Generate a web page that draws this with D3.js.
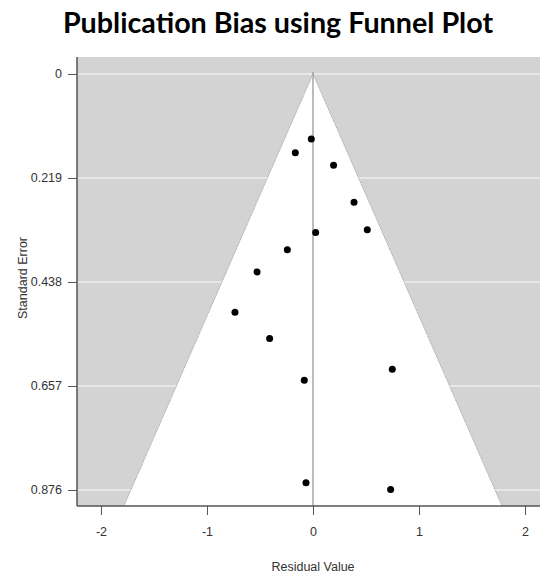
<!DOCTYPE html>
<html>
<head>
<meta charset="utf-8">
<script src="https://cdn.jsdelivr.net/npm/d3@7"></script>
<style>
  body { margin: 0; background: #fff; }
  svg { display: block; }
</style>
</head>
<body>
<svg width="540" height="575"></svg>
<script>
// residuals and their standard errors
const residual = [-0.016, -0.167, 0.194, 0.387, 0.512, 0.025, -0.242, -0.528, -0.736, -0.409, 0.748, -0.082, -0.066, 0.732];
const stdErr   = [0.137, 0.166, 0.192, 0.270, 0.328, 0.334, 0.370, 0.417, 0.502, 0.557, 0.622, 0.645, 0.861, 0.875];
const yTicks = [0, 0.219, 0.438, 0.657, 0.876];
const xTicks = [-2, -1, 0, 1, 2];

const width = 540, height = 575;
const plotLeft = 77, plotRight = 549, plotTop = 57, plotBottom = 506;

const svg = d3.select("svg");

// title
svg.append("text")
   .attr("x", 278)
   .attr("y", 33)
   .attr("text-anchor", "middle")
   .attr("font-family", "Lato, 'Open Sans', sans-serif")
   .attr("font-weight", "bold")
   .attr("font-size", "28.7px")
   .attr("fill", "#000")
   .text("Publication Bias using Funnel Plot");

const x = d3.scaleLinear()
    .domain([-2.226, 2.226])
    .range([plotLeft, plotRight]);

const y = d3.scaleLinear()
    .domain([-0.0357, 0.9097])
    .range([plotTop, plotBottom]);

svg.append("clipPath").attr("id", "plotclip")
   .append("rect")
   .attr("x", plotLeft).attr("y", plotTop)
   .attr("width", plotRight - plotLeft).attr("height", plotBottom - plotTop);

const g = svg.append("g").attr("clip-path", "url(#plotclip)");

// grey background
g.append("rect")
 .attr("x", plotLeft).attr("y", plotTop)
 .attr("width", plotRight - plotLeft).attr("height", plotBottom - plotTop)
 .attr("fill", "#d3d3d3");

// grid lines
g.selectAll("line.grid").data(yTicks).enter().append("line")
 .attr("class", "grid")
 .attr("x1", plotLeft).attr("x2", plotRight)
 .attr("y1", d => y(d)).attr("y2", d => y(d))
 .attr("stroke", "#eeeeee")
 .attr("stroke-width", 1.5);

// funnel (95% pseudo confidence region)
const seMax = y.domain()[1];
const funnel = [[0, 0], [-1.96 * seMax, seMax], [1.96 * seMax, seMax]];
g.append("path")
 .attr("d", d3.line().x(d => x(d[0])).y(d => y(d[1]))(funnel) + "Z")
 .attr("fill", "#fff")
 .attr("stroke", "none");

// dotted funnel edges
[-1.96, 1.96].forEach(k => {
  g.append("line")
   .attr("x1", x(0)).attr("y1", y(0))
   .attr("x2", x(k * seMax)).attr("y2", y(seMax))
   .attr("stroke", "#888")
   .attr("stroke-width", 0.8)
   .attr("stroke-dasharray", "1,1");
});

// vertical reference line at 0
g.append("line")
 .attr("x1", x(0)).attr("x2", x(0))
 .attr("y1", y(0) - 2).attr("y2", plotBottom)
 .attr("stroke", "#999")
 .attr("stroke-width", 1.3);

// points
g.selectAll("circle").data(residual).enter().append("circle")
 .attr("cx", d => x(d))
 .attr("cy", (d, i) => y(stdErr[i]))
 .attr("r", 3.5)
 .attr("fill", "#000");

// Y axis
const yAxis = svg.append("g")
   .attr("transform", `translate(${plotLeft}, 0)`)
   .call(d3.axisLeft(y).tickValues(yTicks).tickSize(9).tickPadding(6)
          .tickFormat(d => d === 0 ? "0" : d3.format(".3f")(d)));
yAxis.select(".domain").attr("d", `M0,${plotTop}V${plotBottom}`);

// X axis
const xAxis = svg.append("g")
   .attr("transform", `translate(0, ${plotBottom})`)
   .call(d3.axisBottom(x).tickValues(xTicks).tickSize(9).tickPadding(12)
          .tickFormat(d3.format("d")));
xAxis.select(".domain").attr("d", `M${plotLeft},0H${plotRight}`);

[yAxis, xAxis].forEach(a => {
  a.select(".domain").attr("stroke", "#555").attr("stroke-width", 1.5);
  a.selectAll(".tick line").attr("stroke", "#555");
  a.selectAll("text")
   .attr("font-family", "Arial, 'Liberation Sans', sans-serif")
   .attr("font-size", "12.5px")
   .attr("fill", "#333");
});
xAxis.selectAll("text").text(d => d < 0 ? "-" + Math.abs(d) : d);

// axis labels
svg.append("text")
   .attr("x", x(0))
   .attr("y", 571)
   .attr("text-anchor", "middle")
   .attr("font-family", "Arial, 'Liberation Sans', sans-serif")
   .attr("font-size", "12.5px")
   .attr("fill", "#333")
   .text("Residual Value");

svg.append("text")
   .attr("transform", "rotate(-90)")
   .attr("x", -278)
   .attr("y", 27)
   .attr("text-anchor", "middle")
   .attr("font-family", "Arial, 'Liberation Sans', sans-serif")
   .attr("font-size", "12.5px")
   .attr("fill", "#333")
   .text("Standard Error");
</script>
</body>
</html>
